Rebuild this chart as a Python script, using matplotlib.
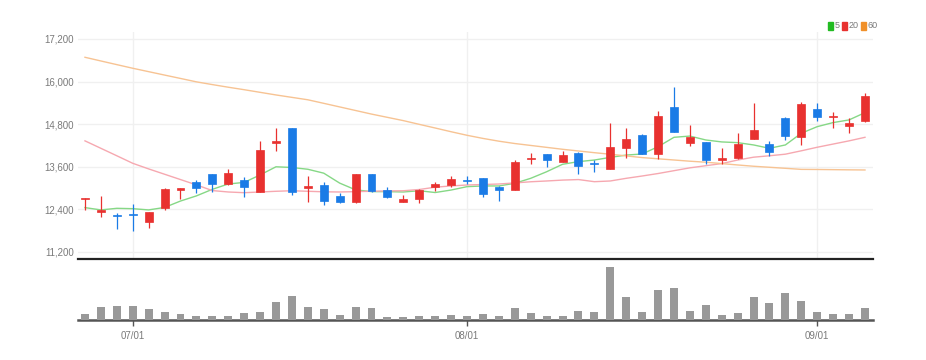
import numpy as np
import pandas as pd
import matplotlib
matplotlib.use("Agg")
import matplotlib.pyplot as plt
from matplotlib import font_manager

# trading days (Korea, 2022-06-28 .. 2022-09-06, 08/15 holiday)
dates = pd.bdate_range("2022-06-28", "2022-09-06")
dates = dates[dates != pd.Timestamp("2022-08-15")]

opens = [12680, 12340, 12240, 12270, 12050, 12430, 12960, 13180, 13390, 13110,
         13230, 12900, 14260, 14690, 13010, 13090, 12780, 12600, 13400, 12950,
         12610, 12690, 13040, 13090, 13220, 13280, 13020, 12950, 13820, 13950,
         13740, 14000, 13690, 13540, 14140, 14500, 13960, 15280, 14260, 14290,
         13800, 13840, 14380, 14230, 14980, 14450, 15220, 14990, 14760, 14900]
highs = [12730, 12780, 12300, 12540, 12340, 12990, 13000, 13230, 13400, 13530,
         13320, 14340, 14690, 14700, 13340, 13180, 12870, 13400, 13410, 13040,
         12810, 12980, 13180, 13350, 13340, 13290, 13050, 13780, 13980, 13960,
         14050, 14010, 13790, 14840, 14690, 14510, 15180, 15840, 14780, 14300,
         14120, 14540, 15390, 14330, 14990, 15430, 15390, 15140, 14970, 15690]
lows = [12390, 12180, 11840, 11800, 11870, 12380, 12680, 12870, 12900, 13090,
        12760, 12880, 14050, 12800, 12620, 12520, 12590, 12590, 12900, 12730,
        12600, 12590, 12930, 13020, 13110, 12740, 12640, 12940, 13670, 13590,
        13730, 13390, 13460, 13530, 13840, 13950, 13810, 14580, 14190, 13680,
        13680, 13830, 14370, 13900, 14350, 14210, 14900, 14690, 14540, 14850]
closes = [12720, 12370, 12210, 12230, 12330, 12975, 12990, 12995, 13110, 13430,
          13040, 14070, 14330, 12900, 13060, 12650, 12600, 13390, 12910, 12740,
          12690, 12950, 13110, 13260, 13200, 12830, 12950, 13740, 13860, 13790,
          13930, 13620, 13670, 14170, 14370, 13960, 15040, 14590, 14450, 13790,
          13840, 14230, 14640, 14010, 14480, 15370, 14990, 15030, 14820, 15580]

ma5 = [12450, 12385, 12430, 12420, 12385, 12455, 12635, 12780, 12965, 13115,
       13160, 13370, 13600, 13580, 13530, 13420, 13140, 12950, 12900, 12900,
       12890, 12925, 12875, 12945, 13040, 13060, 13060, 13135, 13275, 13460,
       13670, 13745, 13790, 13865, 13930, 13960, 14165, 14430, 14465, 14355,
       14300, 14280, 14215, 14120, 14215, 14545, 14730, 14845, 14920, 15125]
ma20 = [14330, 14120, 13910, 13698, 13540, 13390, 13240, 13090, 12930, 12890,
        12870, 12890, 12910, 12925, 12910, 12895, 12890, 12900, 12910, 12920,
        12925, 12960, 13025, 13060, 13087, 13100, 13115, 13145, 13178, 13200,
        13225, 13240, 13180, 13200, 13275, 13340, 13410, 13490, 13570, 13630,
        13690, 13790, 13870, 13910, 13955, 14050, 14150, 14240, 14330, 14430]
ma60 = [16684, 16580, 16477, 16375, 16279, 16183, 16088, 15992, 15915, 15841,
        15771, 15697, 15623, 15555, 15487, 15387, 15286, 15185, 15084, 14992,
        14900, 14795, 14692, 14587, 14487, 14399, 14321, 14255, 14201, 14147,
        14093, 14045, 13997, 13953, 13906, 13859, 13825, 13791, 13757, 13729,
        13690, 13651, 13615, 13586, 13557, 13527, 13524, 13519, 13514, 13510]

# volume in thousand shares
volume = [60, 133, 143, 143, 107, 77, 60, 43, 43, 43,
          73, 77, 177, 240, 133, 107, 53, 127, 120, 27,
          27, 40, 43, 53, 37, 60, 43, 123, 73, 43,
          37, 87, 77, 533, 233, 83, 300, 320, 90, 153,
          50, 73, 233, 167, 273, 190, 83, 60, 60, 117]

price_ticks = [11200, 12400, 13600, 14800, 16000, 17200]
date_ticks = ["07/01", "08/01", "09/01"]
ma_labels = ["5", "20", "60"]

RED = "#e8312f"
BLUE = "#1a7be6"
GRID = "#f0f0f0"
TXT = "#7a7a7a"

avail = {f.name for f in font_manager.fontManager.ttflist}
fam = ["Liberation Sans Narrow", "DejaVu Sans"] if "Liberation Sans Narrow" in avail else ["Liberation Sans", "DejaVu Sans"]
plt.rcParams["font.family"] = fam

x = np.arange(len(dates))
labels = dates.strftime("%m/%d")
tick_pos = [i for i, l in enumerate(labels) if l in date_ticks]

fig = plt.figure(figsize=(9.26, 3.6), dpi=100)
ax = fig.add_axes([0.0842, 0.2806, 0.8585, 0.6306])
axv = fig.add_axes([0.0842, 0.111, 0.8585, 0.156], sharex=ax)

# candles
for i in x:
    o, h, l, c = opens[i], highs[i], lows[i], closes[i]
    col = RED if c >= o else BLUE
    ax.vlines(i, l, h, color=col, lw=0.9, zorder=3)
    bot = min(o, c)
    hgt = max(abs(c - o), 30)
    ax.bar(i, hgt, bottom=bot, width=0.5, color=col, edgecolor=col, lw=0.5, zorder=4)

ax.plot(x, ma5, color="#86d886", lw=1.0, zorder=2)
ax.plot(x, ma20, color="#f6a8b0", lw=1.0, zorder=2)
ax.plot(x, ma60, color="#f7c393", lw=1.0, zorder=2)

ax.set_xlim(-0.44, len(x) - 0.5)
ax.set_ylim(11003, 17397)
ax.set_yticks(price_ticks)
ax.set_yticklabels([f"{v:,}" for v in price_ticks])
ax.tick_params(axis="y", length=0, pad=3, labelsize=7, labelcolor=TXT)
ax.tick_params(axis="x", length=0, labelbottom=False)
ax.set_xticks(tick_pos)
ax.grid(True, color=GRID, lw=1)
ax.set_axisbelow(True)
for s in ["top", "right", "left"]:
    ax.spines[s].set_visible(False)
ax.spines["bottom"].set_color("#222222")
ax.spines["bottom"].set_linewidth(1.6)

# volume
axv.bar(x, volume, width=0.5, color="#999999", zorder=3)
axv.set_ylim(0, 560)
axv.set_yticks([])
for s in ["top", "right", "left"]:
    axv.spines[s].set_visible(False)
axv.spines["bottom"].set_color("#555555")
axv.spines["bottom"].set_linewidth(1.8)
axv.set_xticks(tick_pos)
axv.set_xticklabels(date_ticks)
axv.tick_params(axis="x", length=4, width=1, color="#555555", labelsize=7, labelcolor=TXT, pad=4)

# legend (top right)
leg_x = [0.8945, 0.9095, 0.9300]
for lx, col, lab in zip(leg_x, ["#22bb22", "#e8312f", "#f0902a"], ma_labels):
    fig.patches.append(plt.Rectangle((lx, 0.918), 0.0050, 0.022, color=col, transform=fig.transFigure))
    fig.text(lx + 0.0068, 0.929, lab, fontsize=6.5, color=TXT, va="center", ha="left")

fig.savefig("out.png", dpi=100)
